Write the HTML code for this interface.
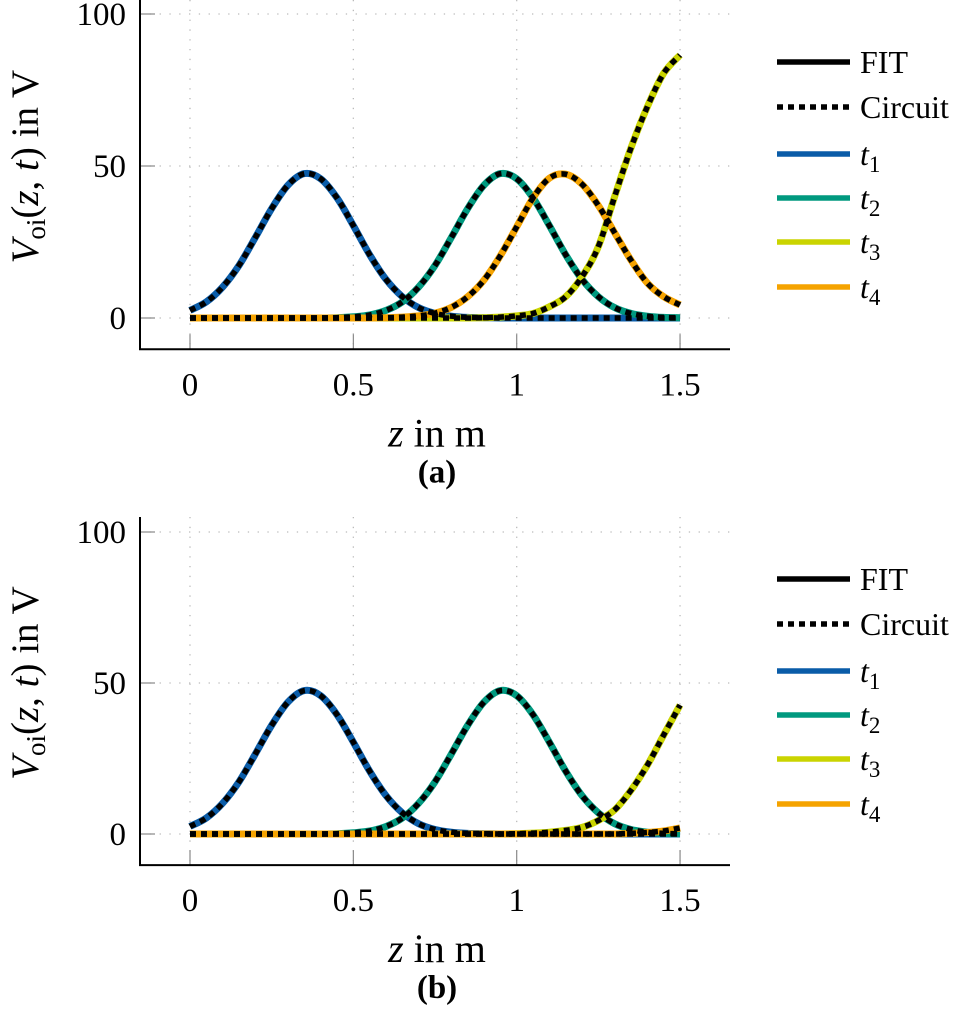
<!DOCTYPE html>
<html><head><meta charset="utf-8"><style>
body{margin:0;background:#fff}
svg{display:block}
text{font-family:"Liberation Serif",serif;fill:#000}
</style></head><body>
<svg id="fig" width="969" height="1024" viewBox="0 0 969 1024" xmlns="http://www.w3.org/2000/svg"></svg>
<script>
const zVals=[0,0.05,0.1,0.15,0.2,0.25,0.3,0.35,0.4,0.45,0.5,0.55,0.6,0.65,0.7,0.75,0.8,0.85,0.9,0.95,1,1.05,1.1,1.15,1.2,1.25,1.3,1.35,1.4,1.45,1.5];
const t1Vals=[2.5,5.3,10.2,17.3,26.5,36.0,43.7,47.5,45.8,39.5,30.4,20.8,12.7,7.0,3.4,1.5,0.6,0.2,0.1,0,0,0,0,0,0,0,0,0,0,0,0];
const t2Vals=[0,0,0,0,0,0,0,0,0,0.1,0.4,1.0,2.5,5.3,10.2,17.3,26.5,36.0,43.7,47.5,45.8,39.5,30.4,20.8,12.7,7.0,3.4,1.5,0.6,0.2,0.1];
const t3aVals=[0,0,0,0,0,0,0,0,0,0,0,0,0,0,0,0,0,0,0.1,0.3,0.7,1.5,3.7,7,13.6,23.5,40,56,69.5,80.5,86.5];
const t4aVals=[0,0,0,0,0,0,0,0,0,0,0,0,0.1,0.3,0.7,1.6,3.5,7,12.5,20.5,30,39.5,46,47.3,44,37,28,19,11.5,7,4.3];
const t3bVals=[0,0,0,0,0,0,0,0,0,0,0,0,0,0,0,0,0,0,0,0,0.1,0.3,0.6,1.2,2.2,4.5,8,14.5,22.8,32.8,42.7];
const t4bVals=[0,0,0,0,0,0,0,0,0,0,0,0,0,0,0,0,0,0,0,0,0,0,0,0,0,0,0,0.2,0.5,1,2];
const xTicks=[0,0.5,1,1.5];
const xTickLabels=["0","0.5","1","1.5"];
const yTicks=[0,50,100];
const yTickLabels=["0","50","100"];
const seriesNames=["t1","t2","t3","t4"];
const seriesColors=["#0a5ca8","#00997f","#cad400","#f5a300"];

const NS="http://www.w3.org/2000/svg";
const svg=document.getElementById('fig');
function el(tag,attrs,parent){const e=document.createElementNS(NS,tag);for(const k in attrs)e.setAttribute(k,attrs[k]);(parent||svg).appendChild(e);return e;}

function panel(key,top,zero,unit,series,label){
  const g=el('g',{});
  
  
  const xL=140,xR=730,x0=190,xs=326.7;
  const X=z=>x0+z*xs, Y=v=>zero-v*unit;
  const bottom=Y(-10.3);
  xTicks.forEach((t,i)=>{
    const gl=el('line',{x1:X(t),x2:X(t),y1:top,y2:bottom,stroke:'#bbb','stroke-width':1.3,'stroke-dasharray':'1.3 8.5'},g);
    
    
    el('line',{x1:X(t),x2:X(t),y1:bottom-15,y2:bottom,stroke:'#888','stroke-width':1.2},g);
    const tx=el('text',{x:X(t),y:bottom+46,'text-anchor':'middle','font-size':33},g);
    tx.textContent=xTickLabels[i];
    
    
  });
  yTicks.forEach((t,i)=>{
    const gl=el('line',{x1:xL,x2:xR,y1:Y(t),y2:Y(t),stroke:'#bbb','stroke-width':1.3,'stroke-dasharray':'1.3 8.5'},g);
    
    
    el('line',{x1:xL,x2:xL+15,y1:Y(t),y2:Y(t),stroke:'#888','stroke-width':1.2},g);
    const tx=el('text',{x:126,y:Y(t)+11,'text-anchor':'end','font-size':33},g);
    tx.textContent=yTickLabels[i];
    
    
  });
  function pathD(vals){
    const p=vals.map((v,i)=>[X(zVals[i]),Y(v)]);
    let d='M'+p[0][0]+','+p[0][1];
    for(let i=0;i<p.length-1;i++){
      const a=p[Math.max(0,i-1)],b=p[i],c=p[i+1],e=p[Math.min(p.length-1,i+2)];
      const c1=[b[0]+(c[0]-a[0])/6,b[1]+(c[1]-a[1])/6],c2=[c[0]-(e[0]-b[0])/6,c[1]-(e[1]-b[1])/6];
      d+=' C'+c1[0]+','+c1[1]+' '+c2[0]+','+c2[1]+' '+c[0]+','+c[1];
    }
    return d;
  }
  series.forEach((vals,i)=>{
    const s=el('path',{d:pathD(vals),fill:'none',stroke:seriesColors[i],'stroke-width':7,'stroke-linejoin':'round'},g);
    
    
  });
  series.forEach((vals,i)=>{
    const s=el('path',{d:pathD(vals),fill:'none',stroke:'#000','stroke-width':5.5,'stroke-dasharray':'6 5'},g);
    
    
  });
  const ax=el('path',{d:`M${xL},${top} V${bottom} H${xR}`,fill:'none',stroke:'#000','stroke-width':2},g);
  
  
  const yl=el('text',{transform:`translate(38,${(top+bottom)/2-8}) rotate(-90)`,'text-anchor':'middle','font-size':39},g);
  yl.innerHTML='<tspan font-style="italic">V</tspan><tspan font-size="27" dy="7">oi</tspan><tspan dy="-7">(</tspan><tspan font-style="italic">z</tspan>, <tspan font-style="italic">t</tspan>) in V';
  
  
  const xl=el('text',{x:437,y:bottom+97,'text-anchor':'middle','font-size':40},g);
  xl.innerHTML='<tspan font-style="italic">z</tspan> in m';
  
  
  const cap=el('text',{x:437,y:bottom+133,'text-anchor':'middle','font-size':33,'font-weight':'bold'},g);
  cap.textContent=label;
  
  
  const ly=top+62;
  const leg=el('g',{},g);
  
  
  const entries=[['FIT','#000',null],['Circuit','#000','6 5']].concat(seriesNames.map((n,i)=>[n,seriesColors[i],null]));
  const gaps=[0,45,92,136,180,225];
  entries.forEach((e,i)=>{
    const y=ly+gaps[i];
    const a={x1:777,x2:850,y1:y,y2:y,stroke:e[1],'stroke-width':5.5};
    if(e[2])a['stroke-dasharray']=e[2];
    const ln=el('line',a,leg);
    
    
    const t=el('text',{x:860,y:y+11,'font-size':32},leg);
    if(i<2)t.textContent=e[0];
    else t.innerHTML='<tspan font-style="italic">t</tspan><tspan font-size="23" dy="7">'+e[0].slice(1)+'</tspan>';
    
    
  });
}
panel('a',0,318,3.04,[t1Vals,t2Vals,t3aVals,t4aVals],'(a)');
panel('b',517,834,3.02,[t1Vals,t2Vals,t3bVals,t4bVals],'(b)');
</script>
</body></html>
